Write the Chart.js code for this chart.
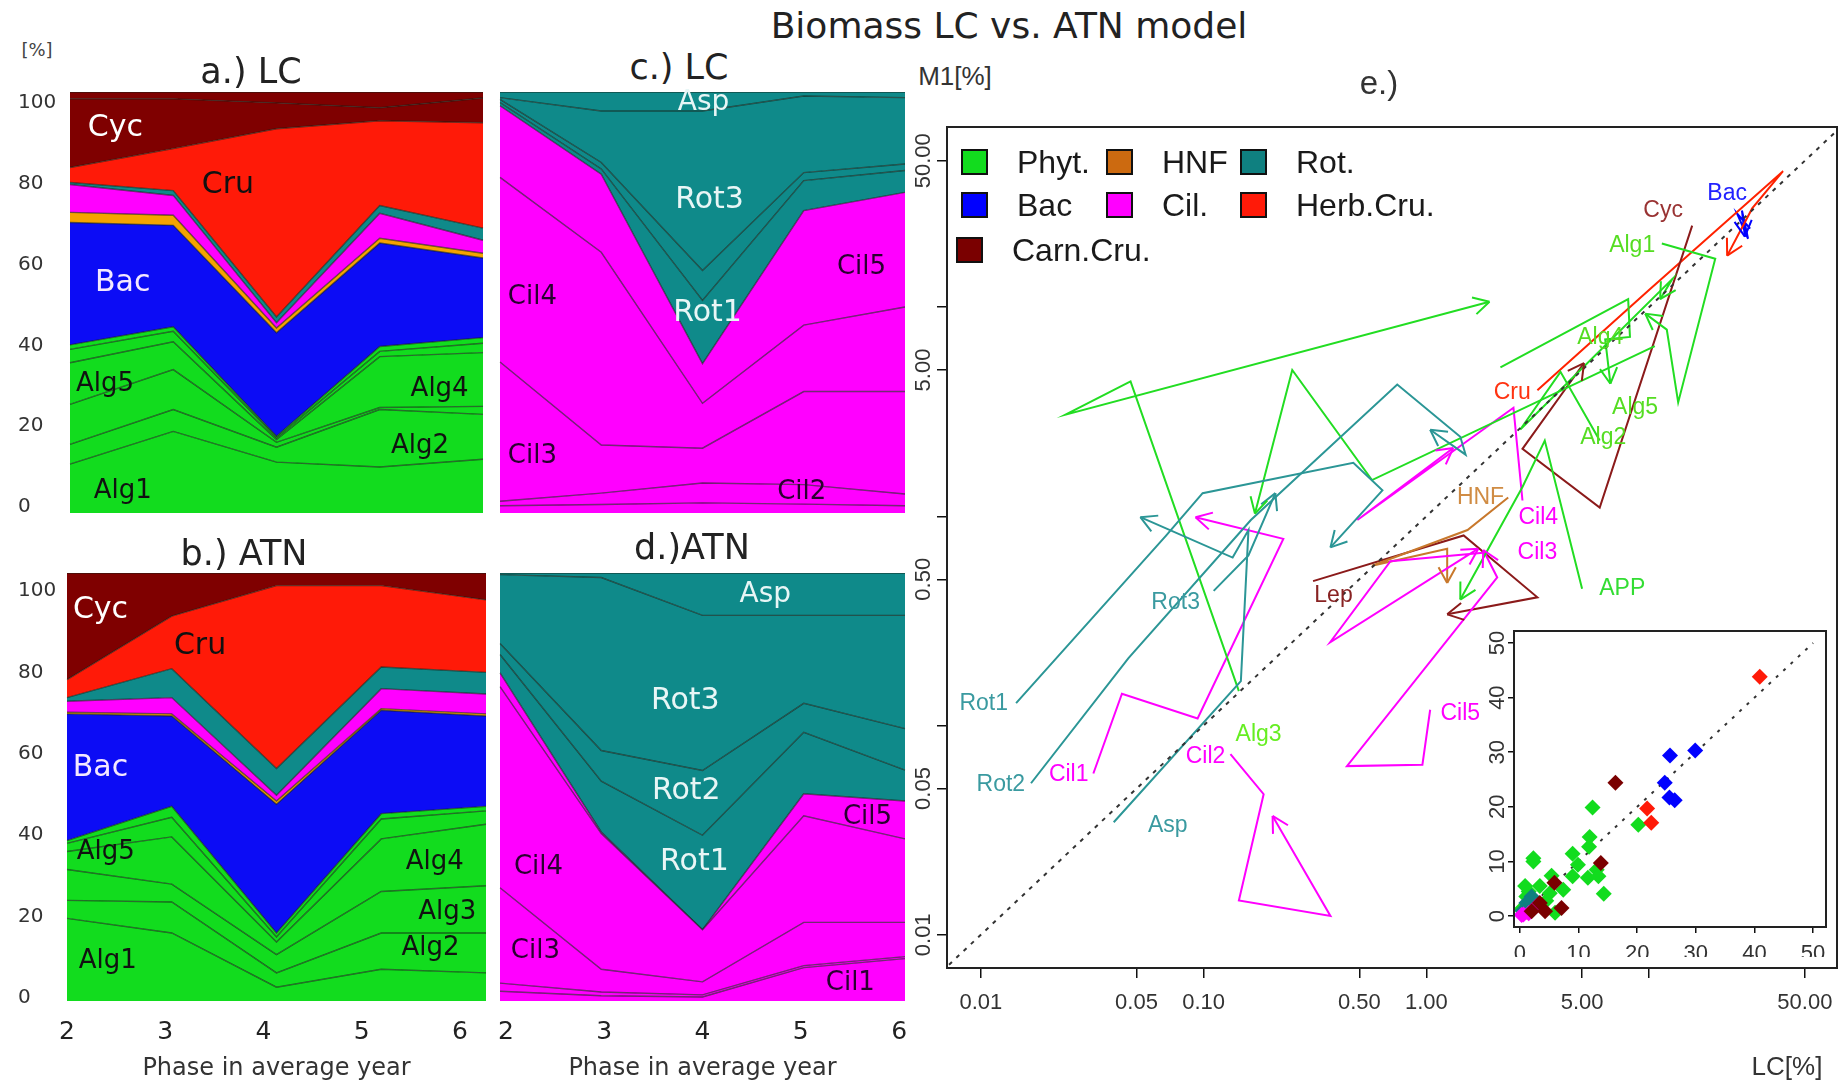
<!DOCTYPE html>
<html>
<head>
<meta charset="utf-8">
<title>Biomass LC vs. ATN model</title>
<script src="https://cdn.jsdelivr.net/npm/chart.js@4.4.1/dist/chart.umd.min.js"></script>
<style>
  html, body { margin: 0; padding: 0; background: #fff; }
  #page { position: relative; width: 1845px; height: 1088px; overflow: hidden; background: #fff; }
  canvas { position: absolute; }
  .txt { position: absolute; white-space: nowrap; transform: translate(-50%, -50%); color: #222; line-height: 1; }
  .dv { font-family: 'DejaVu Sans', sans-serif; }
  .lib { font-family: 'Liberation Sans', Arial, sans-serif; }
</style>
</head>
<body>
<div id="page">
  <canvas id="chartA" width="492" height="432" style="left:0px;top:88px"></canvas>
  <canvas id="chartB" width="500" height="528" style="left:0px;top:560px"></canvas>
  <canvas id="chartC" width="420" height="432" style="left:494px;top:88px"></canvas>
  <canvas id="chartD" width="420" height="528" style="left:494px;top:560px"></canvas>
  <canvas id="chartE" width="965" height="988" style="left:880px;top:100px"></canvas>
  <canvas id="chartInset" width="370" height="360" style="left:1470px;top:615px"></canvas>

  <div class="txt dv" style="left:1009px;top:26px;font-size:36px">Biomass LC vs. ATN model</div>
  <div class="txt dv" style="left:37px;top:50px;font-size:18px;color:#444">[%]</div>
  <div class="txt dv" style="left:251px;top:71px;font-size:35px">a.) LC</div>
  <div class="txt dv" style="left:244px;top:553px;font-size:35px">b.) ATN</div>
  <div class="txt dv" style="left:679px;top:67px;font-size:35px">c.) LC</div>
  <div class="txt dv" style="left:692px;top:547px;font-size:35px">d.)ATN</div>
  <div class="txt lib" style="left:955px;top:76px;font-size:26px;color:#333">M1[%]</div>
  <div class="txt lib" style="left:1379px;top:82px;font-size:33px;color:#333">e.)</div>
  <div class="txt lib" style="left:1787px;top:1066px;font-size:26px;color:#333">LC[%]</div>
</div>

<script>
// phases of the average year (x of the stacked plots)
const phases = ['2', '3', '4', '5', '6'];
const phaseTicks = [2, 3, 4, 5, 6];
const yTicks = [0, 20, 40, 60, 80, 100];

// whole community, stacked bottom -> top
const commNames = ['Alg1', 'Alg2', 'Alg3', 'Alg4', 'Alg5', 'APP', 'Bac', 'HNF', 'Cil', 'Rot', 'Cru', 'Cyc', 'Lep'];
// zooplankton, stacked bottom -> top
const zooNames = ['Cil1', 'Cil2', 'Cil3', 'Cil4', 'Cil5', 'Rot1', 'Rot2', 'Rot3', 'Asp'];

// a.) LC
const lcComm = {
  Alg1: [10.6, 18.7, 11.1, 9.9, 11.8],
  Alg2: [4.9, 5.4, 3.7, 14.2, 11.1],
  Alg3: [9.9, 9.9, 1.2, 0.5, 2.0],
  Alg4: [10.3, 6.9, 0.7, 12.6, 13.3],
  Alg5: [3.3, 2.6, 0.4, 1.3, 2.3],
  APP:  [1.1, 1.1, 0.4, 1.2, 1.4],
  Bac:  [30.3, 25.1, 25.6, 25.6, 19.7],
  HNF:  [2.5, 2.5, 1.2, 1.2, 1.2],
  Cil:  [6.9, 4.9, 1.3, 6.2, 3.2],
  Rot:  [0.5, 1.2, 1.4, 1.9, 3.0],
  Cru:  [3.7, 10.4, 46.6, 21.0, 26.1],
  Cyc:  [17.0, 12.3, 6.4, 3.2, 6.1],
  Lep:  [1.7, 1.7, 2.7, 3.9, 1.5]
};

// b.) ATN
const atnComm = {
  Alg1: [19.6, 16.0, 2.7, 7.1, 6.2],
  Alg2: [4.4, 7.6, 3.5, 8.9, 9.8],
  Alg3: [7.6, 4.4, 4.5, 10.2, 11.6],
  Alg4: [4.4, 11.6, 3.1, 12.9, 15.1],
  Alg5: [2.0, 4.8, 1.2, 4.9, 3.3],
  APP:  [0.7, 2.7, 1.0, 1.3, 1.1],
  Bac:  [31.1, 22.2, 31.6, 25.4, 22.2],
  HNF:  [0.4, 0.5, 0.8, 0.4, 0.5],
  Cil:  [2.7, 4.0, 1.4, 4.9, 4.9],
  Rot:  [0.9, 7.1, 6.6, 5.3, 5.3],
  Cru:  [4.4, 12.9, 44.9, 20.0, 17.8],
  Cyc:  [26.2, 10.6, 3.1, 3.1, 6.6],
  Lep:  [0, 0, 0, 0, 0]
};

// c.) LC
const lcZoo = {
  Cil1: [0.5, 0.8, 1.2, 0.9, 0.5],
  Cil2: [1.1, 2.8, 4.9, 4.8, 2.9],
  Cil3: [34.4, 11.9, 8.6, 23.0, 25.3],
  Cil4: [45.6, 47.6, 11.1, 16.4, 20.9],
  Cil5: [17.7, 19.3, 9.8, 28.3, 28.3],
  Rot1: [0.8, 1.3, 15.6, 7.4, 5.4],
  Rot2: [0.8, 1.6, 7.4, 2.0, 1.6],
  Rot3: [0.4, 12.7, 39.4, 18.9, 16.4],
  Asp:  [1.4, 4.7, 4.7, 1.0, 1.4]
};

// d.) ATN
const atnZoo = {
  Cil1: [1.7, 0.6, 0.3, 7.5, 9.7],
  Cil2: [2.0, 0.9, 0.5, 0.5, 0.5],
  Cil3: [23.4, 5.6, 3.2, 10.6, 8.4],
  Cil4: [49.4, 33.3, 12.8, 26.2, 20.5],
  Cil5: [3.4, 0.4, 0.0, 5.4, 9.3],
  Rot1: [4.5, 12.5, 23.2, 15.1, 7.6],
  Rot2: [2.7, 7.5, 15.9, 7.1, 10.2],
  Rot3: [16.9, 42.5, 38.1, 21.6, 27.8],
  Asp:  [0.4, 1.1, 10.4, 10.4, 10.4]
};

// e.) trajectories, LC vs M1 (ATN) in %
const tAlg1 = { lc: [11.4, 19.8, 13.5, 12.0, 9.6], m1: [20.1, 17.0, 3.5, 7.8, 9.3] };
const tAlg2 = { lc: [6.0, 4.0, 2.64, 12.7, 11.2], m1: [2.3, 4.9, 2.6, 13.6, 10.9] };
const tAlg3 = { lc: [0.144, 0.047, 0.024, 1.92], m1: [0.146, 4.41, 3.06, 10.6] };
const tAlg4 = { lc: [2.15, 8.05, 8.2, 6.35, 6.7], m1: [5.15, 10.9, 7.2, 7.0, 4.3] };
const tAlg5 = { lc: [10.6, 0.57, 0.25, 0.17], m1: [6.5, 1.49, 5.0, 1.03] };
const tAPP  = { lc: [5.0, 3.4, 2.7, 1.42], m1: [0.45, 2.3, 1.38, 0.40] };
const tBac  = { lc: [28.4, 24.8, 27.8, 26.1, 26.9], m1: [23.7, 28.0, 21.2, 28.9, 21.7] };
const tHNF  = { lc: [2.33, 1.53, 0.57, 1.24, 1.24], m1: [1.23, 0.86, 0.58, 0.70, 0.48] };
const tCil1 = { lc: [0.032, 0.043, 0.094, 0.228, 0.092], m1: [0.059, 0.142, 0.108, 0.78, 0.99] };
const tCil2 = { lc: [0.132, 0.186, 0.144, 0.371, 0.204], m1: [0.073, 0.047, 0.0146, 0.0123, 0.037] };
const tCil3 = { lc: [1.8, 0.69, 0.37, 1.71], m1: [0.67, 0.61, 0.25, 0.70] };
const tCil4 = { lc: [2.7, 2.46, 0.49, 1.32], m1: [1.19, 3.3, 0.96, 2.12] };
const tCil5 = { lc: [1.04, 0.96, 0.44, 2.08, 1.8], m1: [0.119, 0.065, 0.064, 0.51, 0.69] };
const tRot1 = { lc: [0.0144, 0.068, 0.099, 0.47, 0.635, 0.371], m1: [0.128, 0.81, 1.29, 1.80, 1.33, 0.71] };
const tRot2 = { lc: [0.0168, 0.046, 0.163, 0.74, 1.42, 1.5, 1.04], m1: [0.053, 0.21, 0.96, 4.26, 2.4, 1.97, 2.59] };
const tRot3 = { lc: [0.111, 0.159, 0.21], m1: [0.44, 0.65, 1.29] };
const tAsp  = { lc: [0.0395, 0.147, 0.159, 0.135, 0.052], m1: [0.0345, 0.163, 0.86, 0.635, 0.99] };
const tCru  = { lc: [3.15, 10.1, 39.9, 29.0, 22.4], m1: [4.0, 12.2, 44.6, 29.6, 17.6] };
const tCyc  = { lc: [15.6, 6.0, 2.7, 5.1], m1: [24.5, 1.1, 2.1, 5.4] };
const tLep  = { lc: [0.31, 1.47, 3.15, 1.24], m1: [0.49, 0.81, 0.41, 0.34] };
const oneToOne = [0.0072, 68];

const eTicks = [0.01, 0.05, 0.1, 0.5, 1, 5, 10, 50];
const eXLabels = ['0.01', '0.05', '0.10', '0.50', '1.00', '5.00', '', '50.00'];
const eYLabels = ['0.01', '0.05', '', '0.50', '', '5.00', '', '50.00'];

// inset, linear axes
const insPhytLC = [12.4, 11.9, 11.8, 9.0, 9.9, 13.1, 11.6, 13.4, 9.0, 14.3, 7.4, 5.4, 2.3, 2.3, 0.9, 3.4, 5.1, 1.1, 6.0, 0.2, 20.2, 1.5, 4.5];
const insPhytM1 = [19.9, 14.5, 12.7, 11.4, 9.4, 8.5, 7.0, 7.3, 7.3, 4.1, 4.8, 7.4, 10.6, 10.0, 5.5, 5.5, 4.2, 3.6, 0.6, 1.2, 16.7, 4.5, 2.8];
const insBacLC = [29.9, 25.6, 24.7, 25.5, 26.4];
const insBacM1 = [30.3, 29.4, 24.4, 21.7, 21.2];
const insHerbLC = [40.9, 21.7, 22.4];
const insHerbM1 = [43.8, 19.7, 17.1];
const insCarnLC = [16.3, 13.8, 5.9, 7.1, 4.3, 2.0, 3.4];
const insCarnM1 = [24.4, 9.7, 6.1, 1.5, 0.9, 0.9, 2.4];
const insRotLC = [2.0, 1.1, 0.5];
const insRotM1 = [3.6, 2.4, 1.0];
const insCilLC = [2.8, 0.6, 1.5, 0.3];
const insCilM1 = [1.8, 0.3, 0.5, 0.2];
const insHnfLC = [1.2];
const insHnfM1 = [0.8];
const insTicks = [0, 10, 20, 30, 40, 50];

// ---- styles ----
const GREEN = '#12dc1e', BLUE = '#0c0cf5', RED = '#ff1a08', DRED = '#7f0000',
      ORANGE = '#f5a300', MAG = '#ff00ff', TEAL = '#0f8a8a';
const layerColor = {
  Alg1: GREEN, Alg2: GREEN, Alg3: GREEN, Alg4: GREEN, Alg5: GREEN, APP: GREEN,
  Bac: BLUE, HNF: ORANGE, Cil: MAG, Rot: TEAL, Cru: RED, Cyc: DRED, Lep: DRED,
  Cil1: MAG, Cil2: MAG, Cil3: MAG, Cil4: MAG, Cil5: MAG,
  Rot1: TEAL, Rot2: TEAL, Rot3: TEAL, Asp: TEAL
};
const groupColor = {
  phyt: '#22dd22', hnf: '#c8782c', rot: '#2b9696', bac: '#0000ff',
  cil: '#ff00ff', herb: '#ff2200', carn: '#8b1a1a'
};
const legendColor = {
  phyt: '#12dc1e', hnf: '#cc6a10', rot: '#0f8080', bac: '#0000ff',
  cil: '#ff00ff', herb: '#ff1a08', carn: '#7a0000'
};

// in-area labels: text, phase, value, colour, size
const WHITE = '#ffffff', INK = '#111111', PURP = '#2a0030', PALE = '#e8f6f6';
const aLabels = [['Cyc', 2.44, 93.8, WHITE, 30], ['Cru', 3.53, 79.6, INK, 30], ['Bac', 2.51, 55.4, '#f4e8ff', 30],
  ['Alg5', 2.34, 30.3, INK, 26], ['Alg4', 5.58, 29.1, INK, 26], ['Alg2', 5.39, 15.0, INK, 26], ['Alg1', 2.51, 3.9, INK, 26]];
const bLabels = [['Cyc', 2.32, 95.3, WHITE, 30], ['Cru', 3.27, 86.5, INK, 30], ['Bac', 2.32, 56.5, '#f4e8ff', 30],
  ['Alg5', 2.37, 35.9, INK, 26], ['Alg4', 5.51, 33.4, INK, 26], ['Alg3', 5.63, 21.1, INK, 26],
  ['Alg2', 5.47, 12.3, INK, 26], ['Alg1', 2.39, 9.1, INK, 26]];
const cLabels = [['Asp', 4.01, 100.0, PALE, 28], ['Rot3', 4.07, 75.9, PALE, 30], ['Rot1', 4.05, 48.0, PALE, 30],
  ['Cil5', 5.57, 59.4, PURP, 26], ['Cil4', 2.32, 52.0, PURP, 26], ['Cil3', 2.32, 12.6, PURP, 26], ['Cil2', 4.98, 3.9, PURP, 26]];
const dLabels = [['Asp', 4.62, 99.0, PALE, 28], ['Rot3', 3.83, 72.9, PALE, 30], ['Rot2', 3.84, 50.9, PALE, 30],
  ['Rot1', 3.92, 33.4, PALE, 30], ['Cil5', 5.63, 44.5, PURP, 26], ['Cil4', 2.38, 32.2, PURP, 26],
  ['Cil3', 2.35, 11.5, PURP, 26], ['Cil1', 5.46, 3.7, PURP, 26]];

const ALG = '#55dd22', ROTC = '#3a9aa0';
const eLabels = [
  ['Cyc', 11.56, 28.9, '#993333'], ['Bac', 22.4, 34.9, '#2222ff'], ['Alg1', 8.39, 19.65, ALG],
  ['Alg4', 6.03, 7.17, ALG], ['Cru', 2.43, 3.9, '#ff3311'], ['Alg5', 8.65, 3.31, ALG],
  ['Alg2', 6.22, 2.37, ALG], ['HNF', 1.75, 1.234, '#d08c44'], ['Cil4', 3.18, 0.989, MAG],
  ['Cil3', 3.15, 0.671, MAG], ['APP', 7.57, 0.451, '#33dd33'], ['Rot3', 0.0749, 0.386, ROTC],
  ['Lep', 0.383, 0.417, '#882222'], ['Rot1', 0.0103, 0.1276, ROTC], ['Rot2', 0.0123, 0.052, ROTC],
  ['Cil1', 0.0248, 0.0581, MAG], ['Cil2', 0.102, 0.071, MAG], ['Alg3', 0.1765, 0.0905, '#66ee22'],
  ['Asp', 0.069, 0.0334, ROTC], ['Cil5', 1.42, 0.1142, MAG]
];

// ---- plugins ----
const areaLabels = {
  id: 'areaLabels',
  afterDatasetsDraw(chart, args, opts) {
    const { ctx, scales } = chart;
    ctx.save();
    ctx.textAlign = 'center';
    ctx.textBaseline = 'middle';
    (opts.items || []).forEach(([text, ph, val, color, size]) => {
      ctx.font = size + 'px "DejaVu Sans"';
      ctx.fillStyle = color;
      ctx.fillText(text, scales.x.getPixelForValue(ph - 2), scales.y.getPixelForValue(val));
    });
    ctx.restore();
  }
};

const arrowHeads = {
  id: 'arrowHeads',
  afterDatasetsDraw(chart) {
    const ctx = chart.ctx;
    chart.data.datasets.forEach((ds, i) => {
      if (!ds.arrow) return;
      const pts = chart.getDatasetMeta(i).data;
      const a = pts[pts.length - 2], b = pts[pts.length - 1];
      const ang = Math.atan2(b.y - a.y, b.x - a.x);
      ctx.save();
      ctx.strokeStyle = ds.borderColor;
      ctx.lineWidth = ds.borderWidth;
      ctx.beginPath();
      [ang + Math.PI - 0.5, ang + Math.PI + 0.5].forEach(t => {
        ctx.moveTo(b.x, b.y);
        ctx.lineTo(b.x + 18 * Math.cos(t), b.y + 18 * Math.sin(t));
      });
      ctx.stroke();
      ctx.restore();
    });
  }
};

const eText = {
  id: 'eText',
  afterDatasetsDraw(chart) {
    const { ctx, scales, chartArea } = chart;
    ctx.save();
    ctx.textAlign = 'center';
    ctx.textBaseline = 'middle';
    ctx.font = '23px "Liberation Sans"';
    eLabels.forEach(([text, x, y, color]) => {
      ctx.fillStyle = color;
      ctx.fillText(text, scales.x.getPixelForValue(x), scales.y.getPixelForValue(y));
    });
    // legend (three columns, R style)
    const items = [
      ['Phyt.', 'phyt', 15, 35], ['HNF', 'hnf', 160, 35], ['Rot.', 'rot', 294, 35],
      ['Bac', 'bac', 15, 78], ['Cil.', 'cil', 160, 78], ['Herb.Cru.', 'herb', 294, 78],
      ['Carn.Cru.', 'carn', 10, 123]
    ];
    ctx.textAlign = 'left';
    ctx.font = '32px "Liberation Sans"';
    items.forEach(([text, g, dx, dy]) => {
      const x = chartArea.left + dx, y = chartArea.top + dy;
      ctx.fillStyle = legendColor[g];
      ctx.fillRect(x, y - 12, 25, 24);
      ctx.strokeStyle = '#111';
      ctx.lineWidth = 2;
      ctx.strokeRect(x, y - 12, 25, 24);
      ctx.fillStyle = '#1a1a1a';
      ctx.fillText(text, x + 55, y + 2);
    });
    ctx.restore();
  }
};

const frame = {
  id: 'frame',
  beforeDraw(chart, args, opts) {
    if (!opts.fill) return;
    const { ctx, chartArea: c } = chart;
    ctx.save();
    ctx.fillStyle = opts.fill;
    ctx.fillRect(c.left, c.top, c.right - c.left, c.bottom - c.top);
    ctx.restore();
  },
  afterDraw(chart) {
    const { ctx, chartArea: c } = chart;
    ctx.save();
    ctx.strokeStyle = '#222';
    ctx.lineWidth = 2;
    ctx.strokeRect(c.left, c.top, c.right - c.left, c.bottom - c.top);
    ctx.restore();
  }
};

// keep chart areas where the layout puts them: no extra room for edge labels
function noEdgePad(s) {
  s.paddingLeft = 0; s.paddingRight = 0; s.paddingTop = 0; s.paddingBottom = 0;
}

// ---- stacked area panels ----
function areaChart(id, names, values, labels, cfg) {
  const datasets = names.map((n, i) => ({
    label: n,
    data: values[n],
    fill: i === 0 ? 'start' : '-1',
    backgroundColor: layerColor[n],
    borderColor: 'rgba(20,30,20,0.6)',
    borderWidth: 1.4,
    pointRadius: 0,
    tension: 0
  }));
  return new Chart(document.getElementById(id), {
    type: 'line',
    data: { labels: phases, datasets: datasets },
    options: {
      responsive: false, animation: false, devicePixelRatio: 1, events: [],
      layout: { padding: cfg.padding },
      plugins: { legend: { display: false }, tooltip: { enabled: false }, areaLabels: { items: labels } },
      scales: {
        // data axis: phases span the full width of the panel
        x: {
          display: false,
          offset: false,
          afterFit: s => { noEdgePad(s); s.height = 0; }
        },
        // printed phase axis, placed as in the original figure
        xt: {
          type: 'linear',
          position: 'bottom',
          display: cfg.showX,
          min: cfg.tickMin, max: cfg.tickMax,
          grid: { display: false },
          border: { display: false },
          ticks: { color: '#222', font: { family: 'DejaVu Sans', size: 25 }, padding: 8, maxRotation: 0, autoSkip: false },
          afterBuildTicks: s => { s.ticks = phaseTicks.map(v => ({ value: v })); },
          title: { display: true, text: 'Phase in average year', color: '#333',
                   font: { family: 'DejaVu Sans', size: 24 }, padding: { top: 0, bottom: 3 } },
          afterFit: s => { noEdgePad(s); s.height = cfg.showX ? 85 : 0; }
        },
        y: {
          display: cfg.showY,
          stacked: true,
          min: cfg.yMin, max: cfg.yMax,
          grid: { display: false },
          border: { display: false },
          ticks: { color: '#333', font: { family: 'DejaVu Sans', size: 20 }, crossAlign: 'far', padding: 0 },
          afterBuildTicks: s => { s.ticks = yTicks.map(v => ({ value: v })); },
          afterFit: s => { noEdgePad(s); s.width = cfg.showY ? cfg.yWidth : 0; }
        }
      }
    },
    plugins: [areaLabels]
  });
}

areaChart('chartA', commNames, lcComm, aLabels,
  { padding: { left: 18, top: 4, right: 9, bottom: 7 }, yWidth: 52, yMin: -1.5, yMax: 102.7,
    showX: false, showY: true, tickMin: 2, tickMax: 6 });
areaChart('chartB', commNames, atnComm, bLabels,
  { padding: { left: 18, top: 13, right: 14, bottom: 2 }, yWidth: 49, yMin: -0.7, yMax: 104.4,
    showX: true, showY: true, tickMin: 2, tickMax: 6.265 });
areaChart('chartC', zooNames, lcZoo, cLabels,
  { padding: { left: 6, top: 4, right: 9, bottom: 7 }, yWidth: 0, yMin: -1.3, yMax: 102.7,
    showX: false, showY: false, tickMin: 2, tickMax: 6 });
areaChart('chartD', zooNames, atnZoo, dLabels,
  { padding: { left: 6, top: 13, right: 9, bottom: 2 }, yWidth: 0, yMin: -0.7, yMax: 104.4,
    showX: true, showY: false, tickMin: 1.94, tickMax: 6.06 });

// ---- e.) LC vs ATN, log-log ----
const trajList = [
  [tRot1, 'rot'], [tRot2, 'rot'], [tRot3, 'rot'], [tAsp, 'rot'],
  [tAlg3, 'phyt'], [tAlg5, 'phyt'], [tAlg1, 'phyt'], [tAlg4, 'phyt'], [tAlg2, 'phyt'], [tAPP, 'phyt'],
  [tCil1, 'cil'], [tCil2, 'cil'], [tCil3, 'cil'], [tCil4, 'cil'], [tCil5, 'cil'],
  [tHNF, 'hnf'], [tLep, 'carn'], [tCyc, 'carn'], [tCru, 'herb'], [tBac, 'bac']
];
const eDatasets = [{
  data: oneToOne.map(v => ({ x: v, y: v })),
  showLine: true, borderColor: '#333', borderWidth: 2, borderDash: [4, 6], pointRadius: 0
}];
trajList.forEach(([t, g]) => {
  eDatasets.push({
    data: t.lc.map((v, i) => ({ x: v, y: t.m1[i] })),
    showLine: true, arrow: true,
    borderColor: groupColor[g], borderWidth: 2, pointRadius: 0, tension: 0
  });
});

const logAxisFont = { family: 'Liberation Sans', size: 22 };
new Chart(document.getElementById('chartE'), {
  type: 'scatter',
  data: { datasets: eDatasets },
  options: {
    responsive: false, animation: false, devicePixelRatio: 1, events: [],
    layout: { padding: { top: 27, right: 8, left: 0, bottom: 60 } },
    plugins: { legend: { display: false }, tooltip: { enabled: false } },
    scales: {
      x: {
        type: 'logarithmic', min: 0.00705, max: 69.7,
        grid: { drawOnChartArea: false, tickLength: 10, color: '#111', lineWidth: 1.5 },
        border: { display: false },
        ticks: { color: '#333', font: logAxisFont, padding: 12, autoSkip: false, maxRotation: 0,
                 callback: (v, i) => eXLabels[i] },
        afterBuildTicks: s => { s.ticks = eTicks.map(v => ({ value: v })); },
        afterFit: s => { noEdgePad(s); s.height = 60; }
      },
      y: {
        type: 'logarithmic', min: 0.00694, max: 72.5,
        grid: { drawOnChartArea: false, tickLength: 10, color: '#111', lineWidth: 1.5 },
        border: { display: false },
        ticks: { color: '#333', font: logAxisFont, padding: -14, autoSkip: false,
                 minRotation: 90, maxRotation: 90, crossAlign: 'center',
                 callback: (v, i) => eYLabels[i] },
        afterBuildTicks: s => { s.ticks = eTicks.map(v => ({ value: v })); },
        afterFit: s => { noEdgePad(s); s.width = 67; }
      }
    }
  },
  plugins: [frame, arrowHeads, eText]
});

// ---- inset, linear ----
function diamonds(lc, m1, g) {
  return {
    data: lc.map((v, i) => ({ x: v, y: m1[i] })),
    pointStyle: 'rectRot', pointRadius: 8, borderWidth: 0,
    backgroundColor: legendColor[g]
  };
}
new Chart(document.getElementById('chartInset'), {
  type: 'scatter',
  data: {
    datasets: [
      diamonds(insCarnLC, insCarnM1, 'carn'),
      diamonds(insHerbLC, insHerbM1, 'herb'),
      diamonds(insBacLC, insBacM1, 'bac'),
      diamonds(insCilLC, insCilM1, 'cil'),
      diamonds(insRotLC, insRotM1, 'rot'),
      diamonds(insHnfLC, insHnfM1, 'hnf'),
      diamonds(insPhytLC, insPhytM1, 'phyt'),
      { data: [{ x: 0, y: 0 }, { x: 50, y: 50 }], showLine: true, pointRadius: 0,
        borderColor: '#333', borderWidth: 2, borderDash: [3, 7] }
    ]
  },
  options: {
    responsive: false, animation: false, devicePixelRatio: 1, events: [],
    layout: { padding: { top: 16, right: 14, left: 0, bottom: 18 } },
    plugins: { legend: { display: false }, tooltip: { enabled: false }, frame: { fill: '#ffffff' } },
    scales: {
      x: {
        min: -1, max: 52.2,
        grid: { drawOnChartArea: false, tickLength: 6, color: '#111', lineWidth: 1.5 },
        border: { display: false },
        ticks: { color: '#333', font: logAxisFont, padding: 8, autoSkip: false, maxRotation: 0 },
        afterBuildTicks: s => { s.ticks = insTicks.map(v => ({ value: v })); },
        afterFit: s => { noEdgePad(s); s.height = 30; }
      },
      y: {
        min: -2, max: 52.2,
        grid: { drawOnChartArea: false, tickLength: 6, color: '#111', lineWidth: 1.5 },
        border: { display: false },
        ticks: { color: '#333', font: logAxisFont, padding: -2, autoSkip: false,
                 minRotation: 90, maxRotation: 90, crossAlign: 'center' },
        afterBuildTicks: s => { s.ticks = insTicks.map(v => ({ value: v })); },
        afterFit: s => { noEdgePad(s); s.width = 44; }
      }
    }
  },
  plugins: [frame]
});
</script>
</body>
</html>
